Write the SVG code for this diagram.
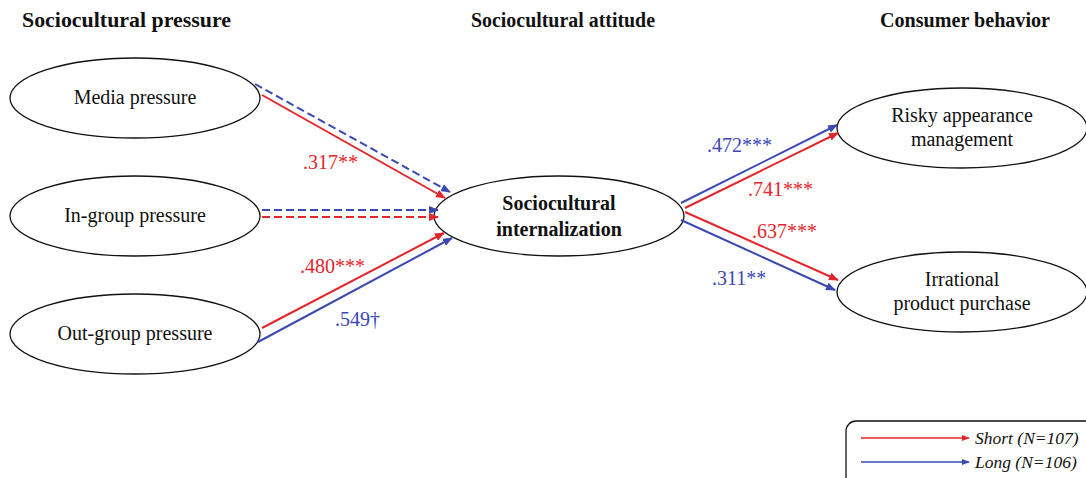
<svg xmlns="http://www.w3.org/2000/svg" width="1086" height="478" viewBox="0 0 1086 478">
<defs>
<marker id="ar" viewBox="0 0 10 10" refX="9" refY="5" markerWidth="10" markerHeight="8" orient="auto" markerUnits="userSpaceOnUse" preserveAspectRatio="none"><path d="M0,0 L10,5 L0,10 z" fill="#e3262b"/></marker>
<marker id="ab" viewBox="0 0 10 10" refX="9" refY="5" markerWidth="10" markerHeight="8" orient="auto" markerUnits="userSpaceOnUse" preserveAspectRatio="none"><path d="M0,0 L10,5 L0,10 z" fill="#3a48b2"/></marker>
<marker id="arS" viewBox="0 0 10 10" refX="9" refY="5" markerWidth="8" markerHeight="6" orient="auto" markerUnits="userSpaceOnUse" preserveAspectRatio="none"><path d="M0,0 L10,5 L0,10 z" fill="#e3262b"/></marker>
<marker id="abS" viewBox="0 0 10 10" refX="9" refY="5" markerWidth="8" markerHeight="6" orient="auto" markerUnits="userSpaceOnUse" preserveAspectRatio="none"><path d="M0,0 L10,5 L0,10 z" fill="#3a48b2"/></marker>
<style>
.node{fill:#fff;stroke:#111;stroke-width:1.3}
.t{font-family:"Liberation Serif",serif;font-size:20px;fill:#111;text-anchor:middle}
.h{font-family:"Liberation Serif",serif;font-size:20px;font-weight:bold;fill:#111}
.b{font-weight:bold}
.r{stroke:#e3262b;stroke-width:2;fill:none;marker-end:url(#ar)}
.bl{stroke:#3a48b2;stroke-width:2;fill:none;marker-end:url(#ab)}
.d{stroke-dasharray:8,4}
.lr{font-family:"Liberation Serif",serif;font-size:20px;fill:#e3262b}
.lb{font-family:"Liberation Serif",serif;font-size:20px;fill:#3a48b2}
.lg{font-family:"Liberation Serif",serif;font-size:17.5px;font-style:italic;fill:#111}
</style>
</defs>
<rect width="1086" height="478" fill="#fff"/>
<g id="headers">
<text class="h" x="22" y="27" textLength="209" lengthAdjust="spacingAndGlyphs">Sociocultural pressure</text>
<text class="h" x="471" y="27" textLength="184" lengthAdjust="spacingAndGlyphs">Sociocultural attitude</text>
<text class="h" x="880" y="27" textLength="170" lengthAdjust="spacingAndGlyphs">Consumer behavior</text>
</g>
<g id="media"><ellipse class="node" cx="135" cy="98" rx="125" ry="40"/><text class="t" x="135" y="104">Media pressure</text></g>
<g id="ingroup"><ellipse class="node" cx="135" cy="216" rx="125" ry="40"/><text class="t" x="135" y="222">In-group pressure</text></g>
<g id="outgroup"><ellipse class="node" cx="135" cy="334" rx="125" ry="40"/><text class="t" x="135" y="340">Out-group pressure</text></g>
<g id="internalization"><ellipse class="node" cx="559" cy="216" rx="125" ry="40"/><text class="t b" x="559" y="210">Sociocultural</text><text class="t b" x="559" y="236">internalization</text></g>
<g id="risky"><ellipse class="node" cx="962" cy="128" rx="125" ry="40"/><text class="t" x="962" y="122">Risky appearance</text><text class="t" x="962" y="146">management</text></g>
<g id="irrational"><ellipse class="node" cx="962" cy="292" rx="125" ry="40"/><text class="t" x="962" y="286">Irrational</text><text class="t" x="962" y="310">product purchase</text></g>
<g id="connectors">
<line class="bl d" x1="255" y1="84" x2="450" y2="192"/>
<line class="r" x1="262" y1="95" x2="445" y2="198"/>
<line class="bl d" x1="262" y1="210" x2="438" y2="210"/>
<line class="r d" x1="262" y1="217" x2="438" y2="217"/>
<line class="r" x1="262" y1="328" x2="444" y2="233"/>
<line class="bl" x1="258" y1="342" x2="452" y2="238"/>
<line class="bl" x1="681" y1="203" x2="837" y2="125"/>
<line class="r" x1="685" y1="208" x2="838" y2="133"/>
<line class="r" x1="685" y1="212" x2="838" y2="280"/>
<line class="bl" x1="681" y1="220" x2="835" y2="290"/>
</g>
<g id="labels">
<text class="lr" x="303" y="169">.317**</text>
<text class="lr" x="300" y="273">.480***</text>
<text class="lb" x="335" y="326">.549†</text>
<text class="lb" x="707" y="152">.472***</text>
<text class="lr" x="748" y="196">.741***</text>
<text class="lr" x="752" y="238">.637***</text>
<text class="lb" x="712" y="285">.311**</text>
</g>
<g id="legend">
<rect x="846" y="421" width="260" height="80" rx="10" fill="none" stroke="#111" stroke-width="1.3"/>
<line x1="861" y1="438" x2="969" y2="438" stroke="#e3262b" stroke-width="1.5" marker-end="url(#arS)"/>
<line x1="861" y1="462" x2="969" y2="462" stroke="#3a48b2" stroke-width="1.5" marker-end="url(#abS)"/>
<text class="lg" x="975" y="444">Short (N=107)</text>
<text class="lg" x="975" y="468">Long (N=106)</text>
</g>
</svg>
